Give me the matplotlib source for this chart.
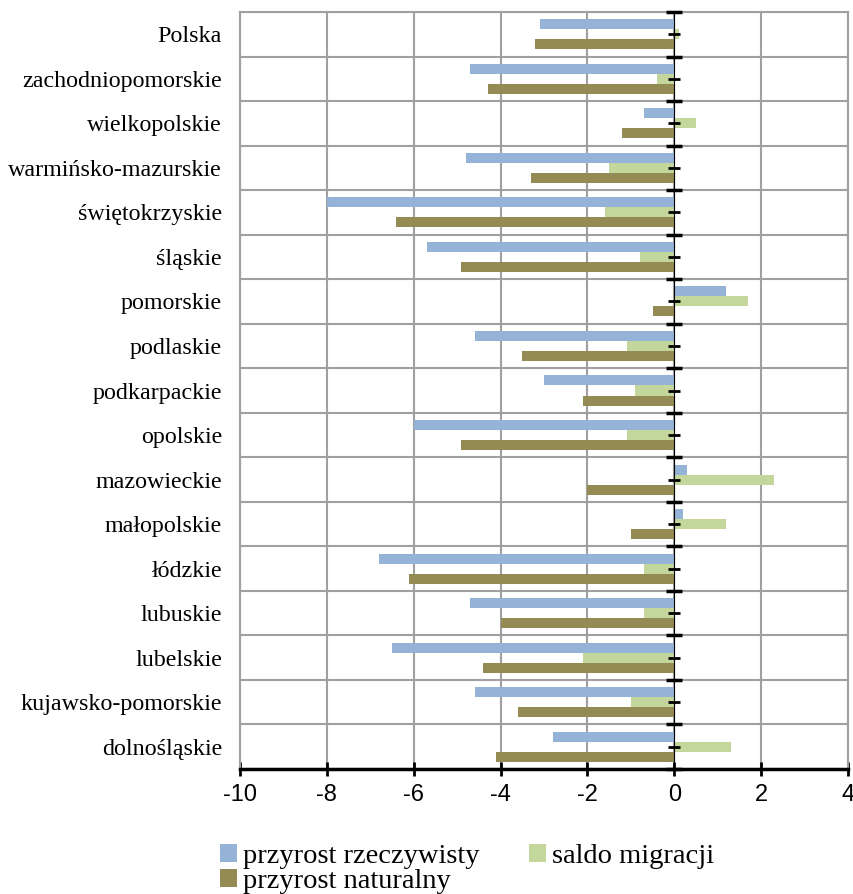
import numpy as np
import matplotlib.pyplot as plt

# województwa, od góry wykresu
regions = ["Polska", "zachodniopomorskie", "wielkopolskie", "warmińsko-mazurskie",
           "świętokrzyskie", "śląskie", "pomorskie", "podlaskie", "podkarpackie",
           "opolskie", "mazowieckie", "małopolskie", "łódzkie", "lubuskie",
           "lubelskie", "kujawsko-pomorskie", "dolnośląskie"]
rzeczywisty = [-3.1, -4.7, -0.7, -4.8, -8.0, -5.7, 1.2, -4.6, -3.0,
               -6.0, 0.3, 0.2, -6.8, -4.7, -6.5, -4.6, -2.8]
migracja = [0.1, -0.4, 0.5, -1.5, -1.6, -0.8, 1.7, -1.1, -0.9,
            -1.1, 2.3, 1.2, -0.7, -0.7, -2.1, -1.0, 1.3]
naturalny = [-3.2, -4.3, -1.2, -3.3, -6.4, -4.9, -0.5, -3.5, -2.1,
             -4.9, -2.0, -1.0, -6.1, -4.0, -4.4, -3.6, -4.1]
xticks = [-10, -8, -6, -4, -2, 0, 2, 4]

c_blue = "#95B3D7"
c_green = "#C3D69B"
c_olive = "#948A54"
grid_c = "#A0A0A0"

n = len(regions)
y = np.arange(n)[::-1].astype(float)
h = 0.225

fig = plt.figure(figsize=(8.54, 8.94), dpi=100)
ax = fig.add_axes([240/854, 1-769/894, 608/854, 757/894])

b1 = ax.barh(y + h, rzeczywisty, height=h, color=c_blue, zorder=3)
b2 = ax.barh(y, migracja, height=h, color=c_green, zorder=3)
b3 = ax.barh(y - h, naturalny, height=h, color=c_olive, zorder=3)

ax.set_xlim(-10, 4)
ax.set_ylim(-0.5, n - 0.5)
ax.set_xticks(xticks)
ax.set_xticklabels([str(v) for v in xticks], family="Liberation Sans", fontsize=17)
ax.set_yticks(y)
ax.set_yticklabels(regions, family="Liberation Serif", fontsize=17.3)
bounds = np.arange(n + 1) - 0.5
ax.set_yticks(bounds, minor=True)

ax.tick_params(axis="y", which="both", length=0, pad=13)
ax.tick_params(axis="x", direction="inout", length=10, width=2, pad=6)
ax.grid(axis="x", color=grid_c, lw=1.5, zorder=0)
ax.grid(axis="y", which="minor", color=grid_c, lw=1.5, zorder=0)

for s in ["top", "right", "left"]:
    ax.spines[s].set_color(grid_c)
    ax.spines[s].set_linewidth(1.5)
ax.spines["bottom"].set_linewidth(2.5)
ax.spines["bottom"].set_zorder(5)

# oś pionowa w zerze
sec = ax.secondary_yaxis(10/14)
sec.spines["left"].set_linewidth(2.5)
sec.set_yticks(bounds)
sec.set_yticks(y, minor=True)
sec.yaxis.set_ticklabels([])
sec.yaxis.set_ticklabels([], minor=True)
sec.tick_params(which="major", direction="inout", length=11, width=2.5,
                labelleft=False, labelright=False)
sec.tick_params(which="minor", direction="inout", length=8, width=2,
                labelleft=False, labelright=False)
sec.set_zorder(6)

fig.legend([b1, b3, b2], ["przyrost rzeczywisty", "przyrost naturalny", "saldo migracji"],
           loc="upper left", bbox_to_anchor=(206/854, 1-830/894), ncol=2, frameon=False,
           prop={"family": "Liberation Serif", "size": 20.5}, handlelength=0.6,
           handleheight=0.6, handletextpad=0.2, columnspacing=1.75, labelspacing=0.0,
           borderpad=0)

fig.savefig("out.png", dpi=100)
